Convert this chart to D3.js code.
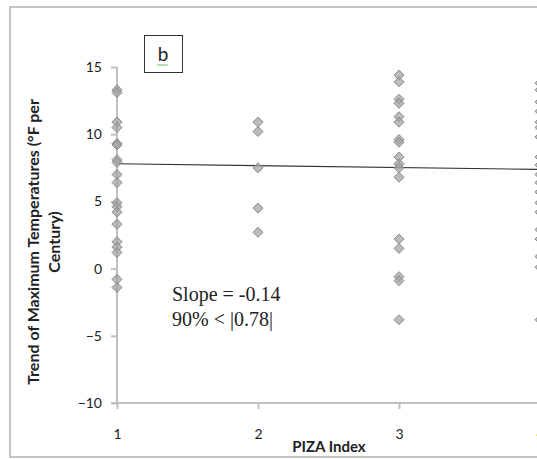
<!DOCTYPE html>
<meta charset="utf-8">
<body style="margin:0">
<script src="https://d3js.org/d3.v7.min.js"></script>
<script>

// Chart values.

var pizaLevels = [1, 2, 3, 4];
var trend1 = [13.3, 13.1, 10.9, 10.5, 9.3, 9.2, 8.1, 7.9, 7.0, 6.4, 4.9, 4.6, 4.2, 3.3, 2.0, 1.6, 1.2, -0.8, -1.4];
var trend2 = [10.9, 10.2, 7.5, 4.5, 2.7];
var trend3 = [14.4, 13.9, 12.6, 12.3, 11.3, 10.9, 9.6, 9.4, 8.3, 7.8, 7.5, 6.8, 2.2, 1.5, -0.6, -0.9, -3.8];
var trend4 = [13.8, 13.3, 12.4, 11.7, 10.9, 10.5, 9.8, 8.3, 7.7, 7.0, 6.4, 5.7, 4.9, 4.2, 2.9, 2.2, 0.9, 0.1, -3.8];
var yTicks = [-10, -5, 0, 5, 10, 15];
var slope = -0.14;
var intercept = 7.94;

var width = 537,
    height = 459;

var svg = d3.select("body").append("svg")
    .attr("width", width)
    .attr("height", height)
    .style("display", "block")
    .style("background", "#fff");

// Outer frame of the pasted figure.

svg.append("rect")
    .attr("x", 10)
    .attr("y", 7)
    .attr("width", 600)
    .attr("height", 450)
    .attr("fill", "none")
    .attr("stroke", "#c4c4c4")
    .attr("stroke-width", 2);

var x = d3.scaleLinear().domain([1, 4]).range([117, 540]);
var y = d3.scaleLinear().domain([-10, 15]).range([403, 67]);

// Axes.

var yAxis = svg.append("g")
    .attr("transform", "translate(117,0)")
    .call(d3.axisLeft(y).tickValues(yTicks).tickSize(6).tickPadding(9));

var xAxis = svg.append("g")
    .attr("transform", "translate(0,403)")
    .call(d3.axisBottom(x).tickValues(pizaLevels).tickFormat(d3.format("d"))
        .tickSize(6).tickPadding(20).tickSizeOuter(0));

[yAxis, xAxis].forEach(function(a) {
    a.select(".domain").attr("stroke", "#c0c0c0").attr("stroke-width", 2);
    a.selectAll(".tick line").attr("stroke", "#c0c0c0").attr("stroke-width", 2);
    a.selectAll(".tick text")
        .attr("font-family", "Lato, 'Open Sans', sans-serif")
        .attr("font-size", "14px")
        .attr("fill", "#222");
});
yAxis.select(".domain").attr("d", "M0,403V67");
xAxis.select(".domain").attr("d", "M111,0H540");
xAxis.selectAll(".tick").filter(function(d) { return d === 4; })
    .select("text").attr("fill", "#f08a00");

// Regression line.

svg.append("line")
    .attr("x1", x(1))
    .attr("y1", y(intercept + slope * 1))
    .attr("x2", x(4))
    .attr("y2", y(intercept + slope * 4))
    .attr("stroke", "#333")
    .attr("stroke-width", 1.2);

// Diamond markers.

var points = [];
[trend1, trend2, trend3, trend4].forEach(function(arr, i) {
    arr.forEach(function(v) { points.push({ k: pizaLevels[i], v: v }); });
});

svg.append("g").selectAll("path")
    .data(points)
    .join("path")
    .attr("transform", function(d) { return "translate(" + x(d.k) + "," + y(d.v) + ")"; })
    .attr("d", "M0,-5L5,0L0,5L-5,0Z")
    .attr("fill", "#a4a4a4")
    .attr("fill-opacity", 0.75)
    .attr("stroke", "#8a8a8a")
    .attr("stroke-width", 1);

// Panel label box.

svg.append("rect")
    .attr("x", 144.5)
    .attr("y", 35.5)
    .attr("width", 38)
    .attr("height", 37)
    .attr("fill", "#fff")
    .attr("stroke", "#333")
    .attr("stroke-width", 1);

svg.append("text")
    .attr("x", 163)
    .attr("y", 61)
    .attr("text-anchor", "middle")
    .attr("font-family", "Lato, sans-serif")
    .attr("font-size", "19px")
    .attr("fill", "#222")
    .text("b");

svg.append("path")
    .attr("d", "M157,65.5l1.5,-1l1.5,1l1.5,-1l1.5,1l1.5,-1l1.5,1l1.5,-1")
    .attr("fill", "none")
    .attr("stroke", "#5cb85c")
    .attr("stroke-width", 1);

// Annotation.

var note = svg.append("text")
    .attr("font-family", "'Liberation Serif', 'DejaVu Serif', serif")
    .attr("font-size", "20px")
    .attr("fill", "#222");
note.append("tspan").attr("x", 172).attr("y", 301).text("Slope = -0.14");
note.append("tspan").attr("x", 172).attr("y", 326).text("90% < |0.78|");

// Axis titles.

svg.append("text")
    .attr("x", 329)
    .attr("y", 452)
    .attr("text-anchor", "middle")
    .attr("font-family", "Lato, 'Open Sans', sans-serif")
    .attr("font-weight", "bold")
    .attr("font-size", "15px")
    .attr("fill", "#222")
    .text("PIZA Index");

var yTitle = svg.append("text")
    .attr("transform", "translate(39,242) rotate(-90)")
    .attr("text-anchor", "middle")
    .attr("font-family", "Lato, 'Open Sans', sans-serif")
    .attr("font-weight", "bold")
    .attr("font-size", "16px")
    .attr("fill", "#222");
yTitle.append("tspan").attr("x", 0).attr("y", 0).text("Trend of Maximum Temperatures (°F per");
yTitle.append("tspan").attr("x", 0).attr("y", 21).text("Century)");

</script>
